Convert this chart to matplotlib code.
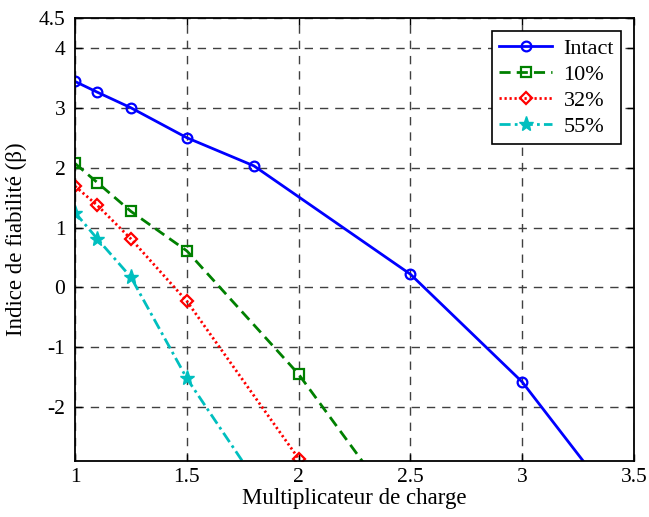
import matplotlib
matplotlib.use("Agg")
import matplotlib.pyplot as plt

# Data
x_intact = [1.0, 1.1, 1.25, 1.5, 1.8, 2.5, 3.0, 3.5]
y_intact = [3.44, 3.26, 3.00, 2.50, 2.03, 0.22, -1.58, -4.0]
x_10 = [1.0, 1.1, 1.25, 1.5, 2.0, 2.5]
y_10 = [2.07, 1.75, 1.27, 0.61, -1.45, -4.0]
x_32 = [1.0, 1.1, 1.25, 1.5, 2.0]
y_32 = [1.69, 1.37, 0.81, -0.23, -2.86]
x_55 = [1.0, 1.1, 1.25, 1.5, 2.0]
y_55 = [1.25, 0.81, 0.17, -1.52, -4.3]
labels = ["Intact", "10%", "32%", "55%"]
xticks = [1, 1.5, 2, 2.5, 3, 3.5]
yticks = [-2, -1, 0, 1, 2, 3, 4, 4.5]

plt.rcParams['font.family'] = ['Liberation Serif', 'DejaVu Serif']
plt.rcParams['mathtext.fontset'] = 'stix'

fig = plt.figure(figsize=(6.49, 5.17), dpi=100)
ax = fig.add_axes([0.1156, 0.1083, 0.8613, 0.8569])

ms = 7
mew = 1.6
ax.plot(x_intact, y_intact, '-', color='#0000ff', lw=2, marker='o', ms=ms, mfc='none', mew=mew, label=labels[0])
ax.plot(x_10, y_10, color='#008000', lw=2, marker='s', ms=ms, mfc='none', mew=mew, label=labels[1], dashes=(4, 2.2))
ax.plot(x_32, y_32, color='#ff0000', lw=2, marker='D', ms=6, mfc='none', mew=mew, label=labels[2], dashes=(0.8, 1.0))
ax.plot(x_55, y_55, color='#00bfbf', lw=2, marker='*', ms=11, mfc='#00bfbf', mew=1, label=labels[3], dashes=(4, 1.5, 1, 1.5))

ax.set_xlim(1, 3.5)
ax.set_ylim(-2.9, 4.5)
ax.set_xticks(xticks)
ax.set_xticklabels(['1', '1.5', '2', '2.5', '3', '3.5'])
ax.set_yticks(yticks)
ax.set_yticklabels(['-2', '-1', '0', '1', '2', '3', '4', '4.5'])
ax.tick_params(direction='in', length=5, labelsize=15.5, top=True, right=True, width=1)
ax.tick_params(axis='x', pad=5)
ax.tick_params(axis='y', pad=7)
ax.grid(True, color='#404040', linestyle=(0, (6, 5)), lw=1)
for s in ax.spines.values():
    s.set_linewidth(1.3)

ax.set_xlabel('Multiplicateur de charge', fontsize=16.5, labelpad=1)
ax.set_ylabel('Indice de fiabilité (β)', fontsize=16.5, labelpad=8)

leg = ax.legend(loc='upper right', fontsize=16, frameon=True, fancybox=False,
                edgecolor='black', framealpha=1, borderpad=0.3, labelspacing=0.25,
                handlelength=2.4, handletextpad=0.5, borderaxespad=0.6)
leg.get_frame().set_linewidth(1.2)

fig.savefig('out.png', dpi=100)
